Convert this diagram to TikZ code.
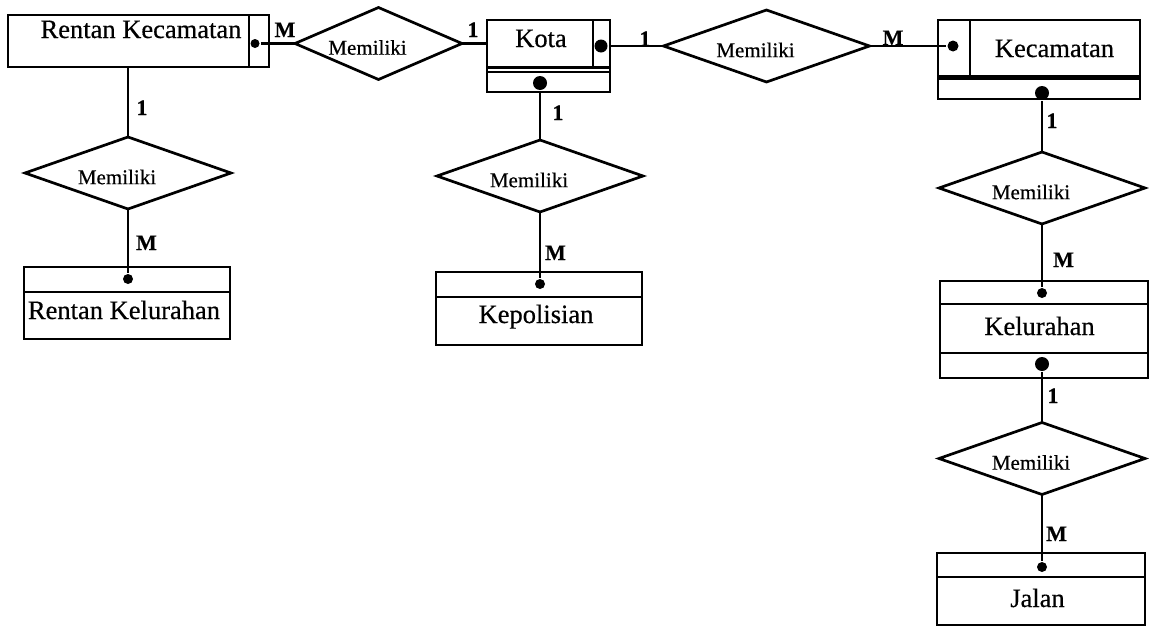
\documentclass[tikz,border=0pt]{standalone}
\usepackage{fontspec}
\setmainfont{Liberation Serif}[FakeBold=0.5]
\usetikzlibrary{shapes.geometric}

\begin{document}
\begin{tikzpicture}[x=1pt, y=-1pt, line width=2.7pt,
    box/.style={draw, rectangle, inner sep=0pt, outer sep=0pt},
    txt/.style={inner sep=0pt, anchor=base, font=\fontsize{26.5}{30}\selectfont},
    rel/.style={draw, diamond, aspect=2.8, inner sep=0pt, outer sep=0pt,
      minimum width=206pt, minimum height=72pt,
      label={[inner sep=0pt, anchor=base, xshift=-11pt, yshift=-4pt, font=\fontsize{21}{24}\selectfont]center:Memiliki}},
    card/.style={inner sep=0pt, anchor=base, font=\bfseries\fontsize{22}{24}\selectfont},
    dot/.style={circle, fill, inner sep=0pt, minimum size=10pt},
    bigdot/.style={circle, fill, inner sep=0pt, minimum size=14pt}]
  \useasboundingbox (0,0) rectangle (1149,627);

  \node[box, minimum width=261pt, minimum height=52pt] (rkec) at (138.5,41) {};
  \node[txt] (rkecT) at (141,38) {Rentan Kecamatan};
  \draw ([xshift=-20pt]rkec.north east) -- ([xshift=-20pt]rkec.south east);

  \node[box, minimum width=123pt, minimum height=72pt] (kota) at (548.5,56) {};
  \node[txt] (kotaT) at (541,47) {Kota};
  \draw ([yshift=24.5pt]kota.south west) -- ([yshift=24.5pt]kota.south east);
  \draw ([yshift=20pt]kota.south west) -- ([yshift=20pt]kota.south east);
  \draw ([xshift=-17pt]kota.north east) -- ([xshift=-17pt,yshift=24.5pt]kota.south east);

  \node[box, minimum width=202pt, minimum height=79pt] (kec) at (1039,59.5) {};
  \node[txt] (kecT) at (1054.5,57) {Kecamatan};
  \draw[line width=4.5pt] ([yshift=21.5pt]kec.south west) -- ([yshift=21.5pt]kec.south east);
  \draw ([xshift=32pt]kec.north west) -- ([xshift=32pt,yshift=21.5pt]kec.south west);

  \node[box, minimum width=206pt, minimum height=72pt] (rkel) at (127,303) {};
  \node[txt] (rkelT) at (124,319) {Rentan Kelurahan};
  \draw ([yshift=-25pt]rkel.north west) -- ([yshift=-25pt]rkel.north east);

  \node[box, minimum width=206pt, minimum height=73pt] (polisi) at (539,308.5) {};
  \node[txt] (polisiT) at (536,323) {Kepolisian};
  \draw ([yshift=-25pt]polisi.north west) -- ([yshift=-25pt]polisi.north east);

  \node[box, minimum width=208pt, minimum height=97pt] (kel) at (1044,329.5) {};
  \node[txt] (kelT) at (1039.5,335) {Kelurahan};
  \draw ([yshift=-23pt]kel.north west) -- ([yshift=-23pt]kel.north east);
  \draw ([yshift=25pt]kel.south west) -- ([yshift=25pt]kel.south east);

  \node[box, minimum width=208pt, minimum height=72pt] (jalan) at (1041,589) {};
  \node[txt] (jalanT) at (1037.5,607) {Jalan};
  \draw ([yshift=-24pt]jalan.north west) -- ([yshift=-24pt]jalan.north east);

  \node[rel, minimum width=167pt] (r1) at (378.5,43.5) {};
  \node[rel] (r2) at (766.5,46) {};
  \node[rel] (r3) at (128,173) {};
  \node[rel] (r4) at (540,176) {};
  \node[rel] (r5) at (1042,188) {};
  \node[rel] (r6) at (1042,458.5) {};

  \node[dot, minimum size=9pt] (rkecD) at (255,43.5) {};
  \node[bigdot, minimum size=13pt] (kotaD) at (601,46) {};
  \node[bigdot] (kotaB) at (540,83) {};
  \node[dot] (polisiD) at (540,284) {};
  \node[dot, minimum size=11pt] (kecD) at (953,46) {};
  \node[bigdot] (kecB) at (1042,93) {};
  \node[dot] (kelD) at (1042,293) {};
  \node[bigdot] (kelB) at (1042,364) {};
  \node[dot] (jalanD) at (1042,567) {};
  \node[dot] (rkelD) at (128,279) {};

  \draw (rkecD) -- (r1.west);
  \draw (r1.east) -- (r1.east -| kota.west);
  \draw (kotaD) -- (r2.west);
  \draw (r2.east) -- (kecD);
  \draw (r3.north |- rkec.south) -- (r3.north);
  \draw (r3.south) -- (rkelD);
  \draw (kotaB) -- (r4.north);
  \draw (r4.south) -- (polisiD);
  \draw (kecB) -- (r5.north);
  \draw (r5.south) -- (kelD);
  \draw (kelB) -- (r6.north);
  \draw (r6.south) -- (jalanD);

  \node[card] (c1) at (285,37) {M};
  \node[card] (c2) at (473,37) {1};
  \node[card] (c3) at (645,46) {1};
  \node[card] (c4) at (893,45) {M};
  \node[card] (c5) at (142,115) {1};
  \node[card] (c6) at (146.5,250) {M};
  \node[card] (c7) at (558,120) {1};
  \node[card] (c8) at (555.5,260) {M};
  \node[card] (c9) at (1052,128) {1};
  \node[card] (c10) at (1063.5,267) {M};
  \node[card] (c11) at (1053,403) {1};
  \node[card] (c12) at (1056.5,541) {M};
\end{tikzpicture}
\end{document}
